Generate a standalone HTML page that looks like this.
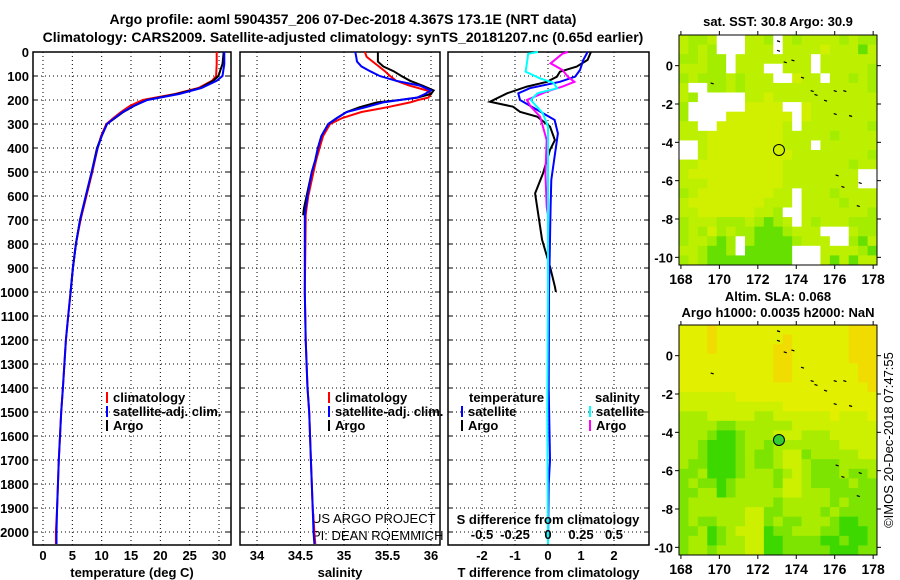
<!DOCTYPE html>
<html><head><meta charset="utf-8"><style>
html,body{margin:0;padding:0;background:#fff;}
svg{display:block;font-family:"Liberation Sans",Arial,sans-serif;}
.b{font-weight:bold;font-size:13px;}
</style></head><body>
<svg id="c" width="900" height="580" viewBox="0 0 900 580">
<text class="b" x="343" y="24" text-anchor="middle" style="font-size:14px">Argo profile: aoml 5904357_206 07-Dec-2018 4.367S 173.1E (NRT data)</text>
<text class="b" x="343" y="42" text-anchor="middle" style="font-size:14px">Climatology: CARS2009. Satellite-adjusted climatology: synTS_20181207.nc (0.65d earlier)</text>
<text class="b" x="778" y="26" text-anchor="middle">sat. SST: 30.8 Argo: 30.9</text>
<text class="b" x="778" y="301" text-anchor="middle">Altim. SLA: 0.068</text>
<text class="b" x="778" y="317" text-anchor="middle">Argo h1000: 0.0035 h2000: NaN</text>
<text x="893" y="440" font-size="13" text-anchor="middle" transform="rotate(-90 893 440)">©IMOS 20-Dec-2018 07:47:55</text>
<text x="312" y="523" font-size="13">US ARGO PROJECT</text>
<text x="312" y="540" font-size="13">PI: DEAN ROEMMICH</text>
</svg>
<script>
// ---- data ----
const depthTicks=[0,100,200,300,400,500,600,700,800,900,1000,1100,1200,1300,1400,1500,1600,1700,1800,1900,2000];
const tempTicks=[0,5,10,15,20,25,30];
const salTicks=[34,34.5,35,35.5,36];
const tdiffTicks=[-2,-1,0,1,2];
const sdiffTicks=[-0.5,-0.25,0,0.25,0.5];
const depthT=[0,50,100,120,150,175,200,225,250,275,300,350,400,500,600,700,800,900,1000,1100,1200,1400,1500,1700,1900,2000,2050];
const climT=[29.6,29.6,29.5,28.8,26.5,22.5,17.0,14.8,13.3,12.0,10.8,9.9,9.3,8.4,7.4,6.4,5.6,5.1,4.7,4.3,3.9,3.4,3.1,2.7,2.4,2.2,2.2];
const satT=[30.9,30.9,30.6,29.6,27.0,23.2,17.8,15.4,13.6,12.2,10.9,10.0,9.3,8.3,7.3,6.3,5.6,5.1,4.7,4.3,3.9,3.4,3.1,2.7,2.4,2.3,2.3];
const argoDepthT=[0,50,100,120,150,175,200,225,250,275,300,350,400,500,600,700,800,900,1000];
const argoT=[30.8,30.6,29.9,29.0,26.8,22.8,17.7,15.5,13.7,12.3,10.9,10.0,9.2,8.3,7.3,6.3,5.6,5.1,4.7];
const depthS=[0,20,40,60,80,100,120,140,160,175,190,200,210,230,250,275,300,350,400,450,500,600,650,680,700,1000,1200,1400,1500,1700,1900,2000,2050];
const climS=[35.24,35.26,35.33,35.4,35.47,35.53,35.6,35.75,35.95,36.0,35.97,35.85,35.76,35.5,35.2,34.98,34.84,34.76,34.72,34.68,34.65,34.59,34.57,34.56,34.56,34.55,34.56,34.58,34.6,34.62,34.64,34.66,34.67];
const satS=[35.13,35.14,35.15,35.2,35.3,35.41,35.6,35.87,36.0,35.93,35.84,35.64,35.45,35.25,35.03,34.92,34.82,34.74,34.7,34.67,34.63,34.58,34.56,34.55,34.55,34.55,34.56,34.58,34.6,34.62,34.64,34.65,34.66];
const argoDepthS=[0,20,40,60,80,100,120,140,160,175,190,200,210,230,250,275,300,350,400,450,500,600,650,680];
const argoS=[35.39,35.39,35.39,35.45,35.57,35.66,35.76,35.9,36.03,36.0,35.84,35.64,35.38,35.18,35.03,34.92,34.82,34.74,34.7,34.67,34.63,34.57,34.54,34.53];
const depthArgoTd=[0,33,61,82,103,124,144,172,207,228,249,269,311,367,408,506,589,672,783,894,978,1000];
const argoTd=[1.3,1.2,0.87,0.36,0.27,-0.03,-0.64,-1.24,-1.76,-1.06,-0.85,-0.33,0.06,0.21,0.06,-0.15,-0.39,-0.3,-0.18,0.06,0.21,0.24];
const depthSatTd=[0,33,75,103,124,151,172,200,255,283,339,436,533,644,1005,1400,1700,1800,2050];
const satTd=[1.2,1.07,0.97,0.82,0.36,-0.55,-0.9,-0.85,-0.15,0.2,0.3,0.2,0.1,0.08,0.03,0.02,0.06,0.02,0.0];
const depthSatSd=[0,7,47,82,110,128,151,172,200,255,311,600,1000,1500,2050];
const satSd=[-0.076,-0.15,-0.16,-0.17,-0.06,0.04,0.07,-0.08,-0.13,-0.04,0,0,0,-0.005,0];
const depthArgoSd=[0,7,47,75,103,124,144,165,200,228,269,367,506,644,680];
const argoSd=[0.15,0.11,0.02,0.11,0.15,0.2,0.11,-0.01,-0.16,-0.13,-0.06,-0.01,-0.02,-0.01,0];
const lonTicks=[168,170,172,174,176,178];
const latTicks=[0,-2,-4,-6,-8,-10];
const sstGrid=[
"lgglwwwllgwlgllllglgg","lglgwwwlllwllllylllGl","gglggwllllllllwllllll","lllggwlllwwlllwlllllg",
"glggglglllwwyllwllglg","lwwgglglllllllllllllg","lgwwwwwllylllllllllll","gwwwwwwyyyywwylllllll",
"gwwwwyyyyyyywylllllll","llwwyyyyyyylwlllllllg","lllyyyyyyyylllllgllll","wwlyyyyyyyylllwllllll",
"wwlyyyyyyyyyllllllllg","llyyyyyyyyylllllllgll","lyyyyyyyyyyllllllllww","lllyyyyyyyyllllllllww",
"glyyyyyyyyllwlllgllll","lyyyyyyyylllwllllglll","llyyyyyyllgwwlllllllg","glllggglgGglwlglllggg",
"glgyglggGGGglllwwwlgg","gllgGgwgGGGGglllwwgGl","llgGGgwGGGGGwwwllllgG","glgGGGGGGGGGwwwlGlGll"];
const slaGrid=[
"YYYoYYYYYYYYYYYYYYooo","YYYoYYYYYYYoYYYYYYooo","YYYoYYYYYYooYYYYYYooo","YYYYYYYYYYooYYYYYYooo",
"YYYYYYYYYYooYYYYYYYoo","YYYYYYYYYYooYYYYYYYoo","YYYYYYYYYYYYYYYYYYYYo","yyyyyyYYYYYYYYYYYYYYY",
"yyyyyyyyyyyYYYYYYYYYY","lllyyyyyllyyyyyyYyyyY","llllggllllllyyyyyyyyy","lllgGGglllyyylllyyyyy",
"llgGGGgllglllllllyyyy","llgGGGglgglyyglllllyy","lggGGGglgglyylgggllll","gglGGGglllglylggglggl",
"glggGgllllgyylgggglgg","ggllGglllllyylllggggg","glllllllllglllllglggg","gllllllyyggllllglgggg",
"glgglllyyglgglllgGGgg","gglGglyyyGgglllggGGGg","gllGgllyyGGggggGGgGGg","gllglllyyGGgggggGGGgg"];
const floatLon=173.1, floatLat=-4.4;
const islands=[[173.05,1.3],[173.05,0.8],[173.4,0.2],[173.8,0.3],[174.3,-0.6],[174.8,-1.3],[175.0,-1.5],[175.5,-1.8],[176.0,-1.3],[176.5,-1.3],[176.0,-2.5],[176.8,-2.6],[169.6,-0.9],[176.1,-5.7],[176.4,-6.3],[177.3,-6.1],[177.2,-7.3]];

// ---- helpers ----
const NS='http://www.w3.org/2000/svg';
const svg=document.getElementById('c');
function mk(tag,attrs,parent){const e=document.createElementNS(NS,tag);for(const k in attrs)e.setAttribute(k,attrs[k]);(parent||svg).appendChild(e);return e;}
const TOP=52,BOT=545;
const yD=d=>TOP+d*0.24;

function panel(name,x0,x1,xs,ticks,tickFmt,title){
  const g=mk('g',{});
  
  
  ticks.forEach(t=>{const x=xs(t);
    const l=mk('line',{x1:x,x2:x,y1:TOP,y2:BOT,stroke:'#000','stroke-width':1,'stroke-dasharray':'1,3'},g);
    
    
    if(tickFmt){const tx=mk('text',{x:x,y:560,'text-anchor':'middle',class:'b'},g);tx.textContent=tickFmt(t);
    
    }
  });
  depthTicks.forEach(d=>{const y=yD(d);
    const l=mk('line',{x1:x0,x2:x1,y1:y,y2:y,stroke:'#000','stroke-width':1,'stroke-dasharray':'1,3'},g);
    
    
    mk('line',{x1:x0,x2:x0+5,y1:y,y2:y,stroke:'#000'},g);
    mk('line',{x1:x1-5,x2:x1,y1:y,y2:y,stroke:'#000'},g);
  });
  const r=mk('rect',{x:x0,y:TOP,width:x1-x0,height:BOT-TOP,fill:'none',stroke:'#000','stroke-width':1.5},g);
  
  
  const t=mk('text',{x:(x0+x1)/2,y:577,'text-anchor':'middle',class:'b'},g);t.textContent=title;
  
  
  return g;
}
function line(name,xs,vals,depths,color,g,w){
  const pts=vals.map((v,i)=>xs(v).toFixed(1)+','+yD(depths[i]).toFixed(1)).join(' ');
  const p=mk('polyline',{points:pts,fill:'none',stroke:color,'stroke-width':w||2},g);
  
  
}
function legend(g,x,y,color,label){
  mk('line',{x1:x,x2:x,y1:y-10,y2:y+1,stroke:color,'stroke-width':2},g);
  const t=mk('text',{x:x+6,y:y,class:'b'},g);t.textContent=label;
  
  
}

// depth axis labels
depthTicks.forEach(d=>{const t=mk('text',{x:29,y:yD(d)+5,'text-anchor':'end',class:'b'});t.textContent=d;
  
  });

// temperature panel
const xT=v=>43+v*5.867;
const g1=panel('temperature-panel',33,231,xT,tempTicks,v=>v,'temperature (deg C)');
line('temp-climatology',xT,climT,depthT,'#f00',g1);
line('temp-argo',xT,argoT,argoDepthT,'#000',g1);
line('temp-satellite',xT,satT,depthT,'#00f',g1);
legend(g1,107,402,'#f00','climatology');
legend(g1,107,416,'#00f','satellite-adj. clim.');
legend(g1,107,430,'#000','Argo');

// salinity panel
const xS=v=>257+(v-34)*87;
const g2=panel('salinity-panel',240,440,xS,salTicks,v=>v,'salinity');
line('sal-climatology',xS,climS,depthS,'#f00',g2);
line('sal-argo',xS,argoS,argoDepthS,'#000',g2);
line('sal-satellite',xS,satS,depthS,'#00f',g2);
legend(g2,329,402,'#f00','climatology');
legend(g2,329,416,'#00f','satellite-adj. clim.');
legend(g2,329,430,'#000','Argo');

// difference panel
const xTd=v=>548+v*33;
const xSd=v=>548+v*132;
const g3=panel('difference-panel',448,649,xTd,tdiffTicks,v=>v,'T difference from climatology');
line('tdiff-argo',xTd,argoTd,depthArgoTd,'#000',g3);
line('tdiff-satellite',xTd,satTd,depthSatTd,'#00f',g3);
line('sdiff-argo',xSd,argoSd,depthArgoSd,'#f0f',g3);
line('sdiff-satellite',xSd,satSd,depthSatSd,'#0ff',g3);
sdiffTicks.forEach(v=>{const t=mk('text',{x:xSd(v),y:539,'text-anchor':'middle',class:'b'},g3);t.textContent=v;
  
  });
{const t=mk('text',{x:548,y:524,'text-anchor':'middle',class:'b'},g3);t.textContent='S difference from climatology';
  
  }
{const t=mk('text',{x:469,y:402,class:'b'},g3);t.textContent='temperature';
  
  }
{const t=mk('text',{x:595,y:402,class:'b'},g3);t.textContent='salinity';
  
  }
legend(g3,462,416,'#00f','satellite');
legend(g3,462,430,'#000','Argo');
legend(g3,590,416,'#0ff','satellite');
legend(g3,590,430,'#f0f','Argo');

// maps
const MX0=679,MX1=877,LON0=167.9,LON1=178.2,LAT0=1.6,LAT1=-10.4;
function mapPanel(name,top,grid,pal,circleFill){
  const bot=top+230;
  const g=mk('g',{});
  
  
  const lx=v=>MX0+(v-LON0)/(LON1-LON0)*(MX1-MX0);
  const ly=v=>top+(LAT0-v)/(LAT0-LAT1)*(bot-top);
  const cw=(MX1-MX0)/21,ch=(bot-top)/24;
  grid.forEach((row,r)=>{for(let c=0;c<row.length;c++){
    mk('rect',{x:(MX0+c*cw).toFixed(2),y:(top+r*ch).toFixed(2),width:(cw+0.5).toFixed(2),height:(ch+0.5).toFixed(2),fill:pal[row[c]]},g);
  }});
  islands.forEach(p=>{mk('line',{x1:lx(p[0])-1,x2:lx(p[0])+2,y1:ly(p[1]),y2:ly(p[1])+1,stroke:'#000','stroke-width':1.2},g);});
  const c=mk('circle',{cx:lx(floatLon),cy:ly(floatLat),r:5.5,fill:circleFill,stroke:'#000','stroke-width':1},g);
  
  
  const fr=mk('rect',{x:MX0,y:top,width:MX1-MX0,height:bot-top,fill:'none',stroke:'#000','stroke-width':1},g);
  
  
  lonTicks.forEach(v=>{const x=lx(v);
    mk('line',{x1:x,x2:x,y1:top-4,y2:top,stroke:'#000'},g);
    mk('line',{x1:x,x2:x,y1:bot,y2:bot+4,stroke:'#000'},g);
    const t=mk('text',{x:x,y:bot+19,'text-anchor':'middle',class:'b',style:'font-size:14px'},g);t.textContent=v;
    
    });
  latTicks.forEach(v=>{const y=ly(v);
    mk('line',{x1:MX0-4,x2:MX0,y1:y,y2:y,stroke:'#000'},g);
    mk('line',{x1:MX1,x2:MX1+4,y1:y,y2:y,stroke:'#000'},g);
    const t=mk('text',{x:673,y:y+5,'text-anchor':'end',class:'b'},g);t.textContent=v;
    
    });
}
mapPanel('sst-map',35,sstGrid,{w:'#fff',y:'#d0f000',l:'#bcf000',g:'#a4ec00',G:'#66e000'},'none');
mapPanel('sla-map',325,slaGrid,{o:'#f0dc00',Y:'#e2f000',y:'#ccf000',l:'#aaec00',g:'#7ce400',G:'#3cd800'},'#33cc33');
</script>
</body></html>
